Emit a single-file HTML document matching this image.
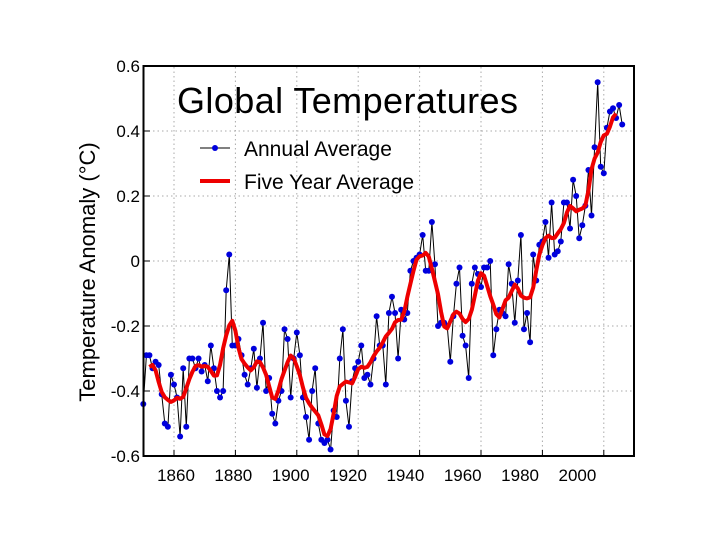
<!DOCTYPE html>
<html><head><meta charset="utf-8"><style>
body{margin:0;background:#fff;}
svg{display:block;font-family:"Liberation Sans",sans-serif;}
</style></head><body>
<svg id="chart" width="720" height="540">
<g id="grid"></g>
<g id="marks"></g>
<rect x="143.5" y="66" width="490.5" height="390" fill="none" stroke="#000" stroke-width="2"/>
<g id="axes"></g>
<text x="177" y="113" font-size="36" textLength="341" fill="#000">Global Temperatures</text>
<g>
<g>
<line x1="200" y1="148" x2="230" y2="148" stroke="#000" stroke-width="1"/>
<circle cx="215" cy="148" r="3" fill="#0000dd"/>
<text x="244" y="156" font-size="21">Annual Average</text>
</g>
<g>
<line x1="200" y1="181" x2="230" y2="181" stroke="#e00" stroke-width="4"/>
<text x="244" y="189" font-size="21">Five Year Average</text>
</g>
</g>
<text transform="translate(95,272) rotate(-90)" text-anchor="middle" font-size="22">Temperature Anomaly (°C)</text>
</svg>
<script>
const startYear = 1850;
const annualValues = [-0.44,-0.29,-0.29,-0.33,-0.31,-0.32,-0.41,-0.50,-0.51,-0.35,
-0.38,-0.42,-0.54,-0.33,-0.51,-0.30,-0.30,-0.33,-0.30,-0.34,
-0.32,-0.37,-0.26,-0.33,-0.40,-0.42,-0.40,-0.09,0.02,-0.26,
-0.26,-0.24,-0.29,-0.35,-0.38,-0.33,-0.27,-0.39,-0.30,-0.19,
-0.40,-0.36,-0.47,-0.50,-0.43,-0.40,-0.21,-0.24,-0.42,-0.30,
-0.22,-0.29,-0.42,-0.48,-0.55,-0.40,-0.33,-0.50,-0.55,-0.56,
-0.55,-0.58,-0.46,-0.48,-0.30,-0.21,-0.43,-0.51,-0.37,-0.33,
-0.31,-0.26,-0.36,-0.35,-0.38,-0.30,-0.17,-0.26,-0.26,-0.38,
-0.16,-0.11,-0.16,-0.30,-0.15,-0.18,-0.16,-0.03,0.00,0.01,
0.02,0.08,-0.03,-0.03,0.12,-0.01,-0.20,-0.19,-0.19,-0.20,
-0.31,-0.17,-0.07,-0.02,-0.23,-0.26,-0.36,-0.07,-0.02,-0.04,
-0.08,-0.02,-0.02,0.00,-0.29,-0.21,-0.15,-0.16,-0.17,-0.01,
-0.07,-0.19,-0.06,0.08,-0.21,-0.16,-0.25,0.02,-0.06,0.05,
0.06,0.12,0.01,0.18,0.02,0.03,0.06,0.18,0.18,0.10,
0.25,0.20,0.07,0.11,0.17,0.28,0.14,0.35,0.55,0.29,
0.27,0.41,0.46,0.47,0.44,0.48,0.42];
const yTicks = [0.6,0.4,0.2,0,-0.2,-0.4,-0.6];
const yTickLabels = ["0.6","0.4","0.2","0","-0.2","-0.4","-0.6"];
const xTicks = [1860,1880,1900,1920,1940,1960,1980,2000];
const xTickLabels = ["1860","1880","1900","1920","1940","1960","1980","2000"];

const NS="http://www.w3.org/2000/svg";
const X = yr => 143.3 + (yr-1850)*3.07;
const Y = v => 261 - v*325;
function mk(tag, attrs, parent){const e=document.createElementNS(NS,tag);for(const k in attrs)e.setAttribute(k,attrs[k]);parent.appendChild(e);return e;}
const grid=document.getElementById('grid'), marks=document.getElementById('marks'), axes=document.getElementById('axes');

yTicks.forEach((t,i)=>{
  const y=Y(t);
  if(i>0&&i<yTicks.length-1){
    const g=mk('line',{x1:144,x2:634,y1:y,y2:y,stroke:'#aaa','stroke-width':1,'stroke-dasharray':'1.5,3'},grid);
    
    
  }
  const tk=mk('line',{x1:144,x2:150,y1:y,y2:y,stroke:'#000'},axes);
  
  
  const tx=mk('text',{x:140,y:y+6,'font-size':17,'text-anchor':'end'},axes);
  tx.textContent=yTickLabels[i];
  
  
});
xTicks.forEach((t,i)=>{
  const x=X(t);
  const g=mk('line',{x1:x,x2:x,y1:67,y2:455,stroke:'#aaa','stroke-width':1,'stroke-dasharray':'1.5,3'},grid);
  
  
  const tk=mk('line',{x1:x,x2:x,y1:450,y2:456,stroke:'#000'},axes);
  
  
  const tx=mk('text',{x:176+(X(t)-X(1860))*0.934,y:481,'font-size':17,'text-anchor':'middle'},axes);
  tx.textContent=xTickLabels[i];
  
  
});

const pts=annualValues.map((v,i)=>X(startYear+i).toFixed(1)+','+Y(v).toFixed(1)).join(' ');
const al=mk('polyline',{points:pts,fill:'none',stroke:'#000','stroke-width':1},marks);


annualValues.forEach((v,i)=>{
  const c=mk('circle',{cx:X(startYear+i),cy:Y(v),r:3,fill:'#0000dd'},marks);
  
  
});
const five=[];
for(let i=2;i<annualValues.length-2;i++){
  let s=0;for(let k=-2;k<=2;k++)s+=annualValues[i+k];
  five.push([startYear+i,s/5]);
}
const sm=five.map((p,i)=>{const a=five[Math.max(0,i-1)][1],b=p[1],c=five[Math.min(five.length-1,i+1)][1];return [p[0],(a+2*b+c)/4];});
const fp=sm.map(p=>X(p[0]).toFixed(1)+','+Y(p[1]).toFixed(1)).join(' ');
const fl=mk('polyline',{points:fp,fill:'none',stroke:'#e00','stroke-width':4,'stroke-linejoin':'round'},marks);


</script>
</body></html>
